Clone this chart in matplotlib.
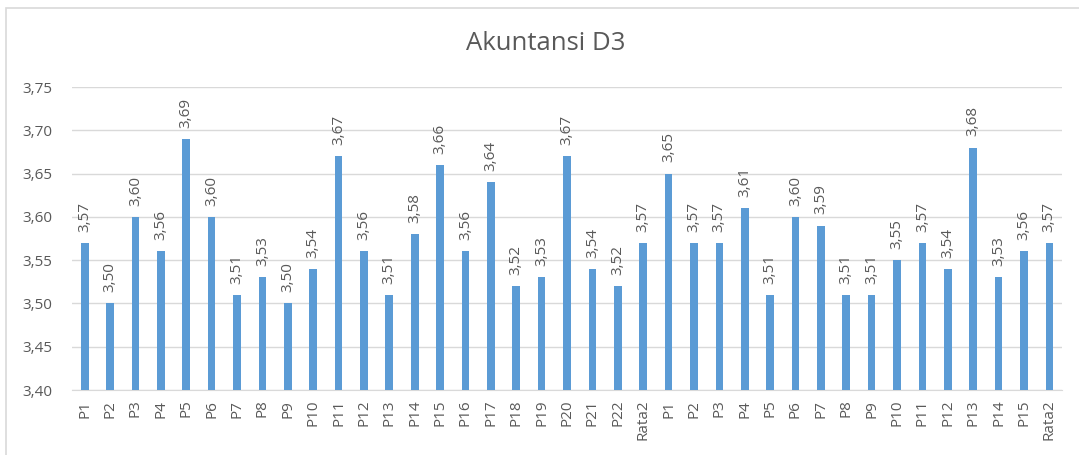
import matplotlib
matplotlib.use("Agg")
import matplotlib.pyplot as plt
from matplotlib.patches import Rectangle

categories = ["P1","P2","P3","P4","P5","P6","P7","P8","P9","P10","P11","P12","P13","P14","P15",
              "P16","P17","P18","P19","P20","P21","P22","Rata2",
              "P1","P2","P3","P4","P5","P6","P7","P8","P9","P10","P11","P12","P13","P14","P15","Rata2"]
values = [3.57,3.50,3.60,3.56,3.69,3.60,3.51,3.53,3.50,3.54,3.67,3.56,3.51,3.58,3.66,
          3.56,3.64,3.52,3.53,3.67,3.54,3.52,3.57,
          3.65,3.57,3.57,3.61,3.51,3.60,3.59,3.51,3.51,3.55,3.57,3.54,3.68,3.53,3.56,3.57]
yticks = [3.40,3.45,3.50,3.55,3.60,3.65,3.70,3.75]
title = "Akuntansi D3"

plt.rcParams['font.family'] = ['Open Sans', 'DejaVu Sans']
txt = "#595959"
fig = plt.figure(figsize=(10.79, 4.55), dpi=100)
fig.patches.append(Rectangle((6/1079, -0.1), 1.2, 1 - 8/455 + 0.1, transform=fig.transFigure,
                             fill=False, edgecolor="#D9D9D9", linewidth=1.2))
ax = fig.add_axes([72/1079, 1 - 390/455, (1062 - 72)/1079, (390 - 87)/455])
x = list(range(len(categories)))
ax.bar(x, [v - 3.40 for v in values], bottom=3.40, width=0.3, color="#5B9BD5", zorder=3)
for xi, v in zip(x, values):
    ax.annotate(f"{v:.2f}".replace(".", ","), (xi, v), xytext=(0, 8), textcoords="offset points",
                rotation=90, ha="center", va="bottom", fontsize=11, color=txt)
ax.set_ylim(3.40, 3.75)
ax.set_xlim(-0.5, len(categories) - 0.5)
ax.set_yticks(yticks)
ax.set_yticklabels([f"{t:.2f}".replace(".", ",") for t in yticks], fontsize=11, color=txt)
ax.set_xticks(x)
ax.set_xticklabels(categories, rotation=90, fontsize=11, color=txt)
ax.grid(axis="y", color="#D9D9D9", linewidth=1, zorder=0)
for s in ["top", "right", "left"]:
    ax.spines[s].set_visible(False)
ax.spines["bottom"].set_color("#D9D9D9")
ax.tick_params(length=0, pad=7)
ax.tick_params(axis="y", pad=14)
fig.text(546/1079, 1 - 44/455, title, ha="center", va="center", fontsize=18.5, color=txt)
fig.savefig("out.png", dpi=100)
